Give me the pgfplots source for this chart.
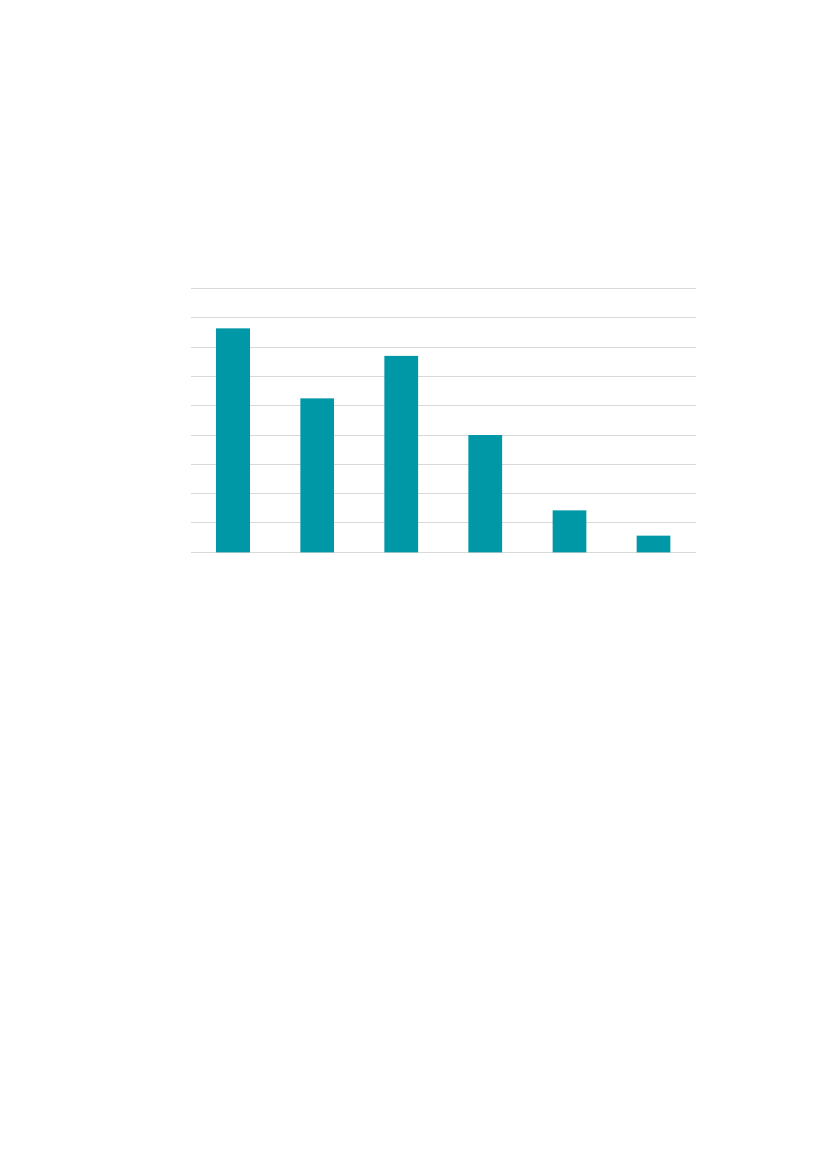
\documentclass[border=0pt]{standalone}
\usepackage{pgfplots}
\pgfplotsset{compat=1.18}
\definecolor{barteal}{RGB}{0,152,167}
\definecolor{gridgray}{RGB}{217,217,217}
\begin{document}
\begin{tikzpicture}[x=1mm,y=1mm]
% A4 page, 1 px = 210/827 mm
\path[use as bounding box] (0,0) rectangle (210,297);
\begin{axis}[
  at={(48.50mm,156.68mm)}, anchor=south west,
  scale only axis,
  width=128.23mm, height=67.04mm,
  xmin=-0.5, xmax=5.5,
  ymin=0, ymax=9,
  ytick={0,...,9},
  xtick=\empty,
  yticklabels={},
  ymajorgrids,
  grid style={gridgray, line width=0.7pt},
  axis line style={draw=none},
  major tick length=0pt,
  clip=false,
]
\addplot[ybar, bar width=0.4, fill=barteal, draw=none] coordinates {
  (0,7.64) (1,5.25) (2,6.70) (3,4.00) (4,1.43) (5,0.57)
};
\end{axis}
\end{tikzpicture}
\end{document}
